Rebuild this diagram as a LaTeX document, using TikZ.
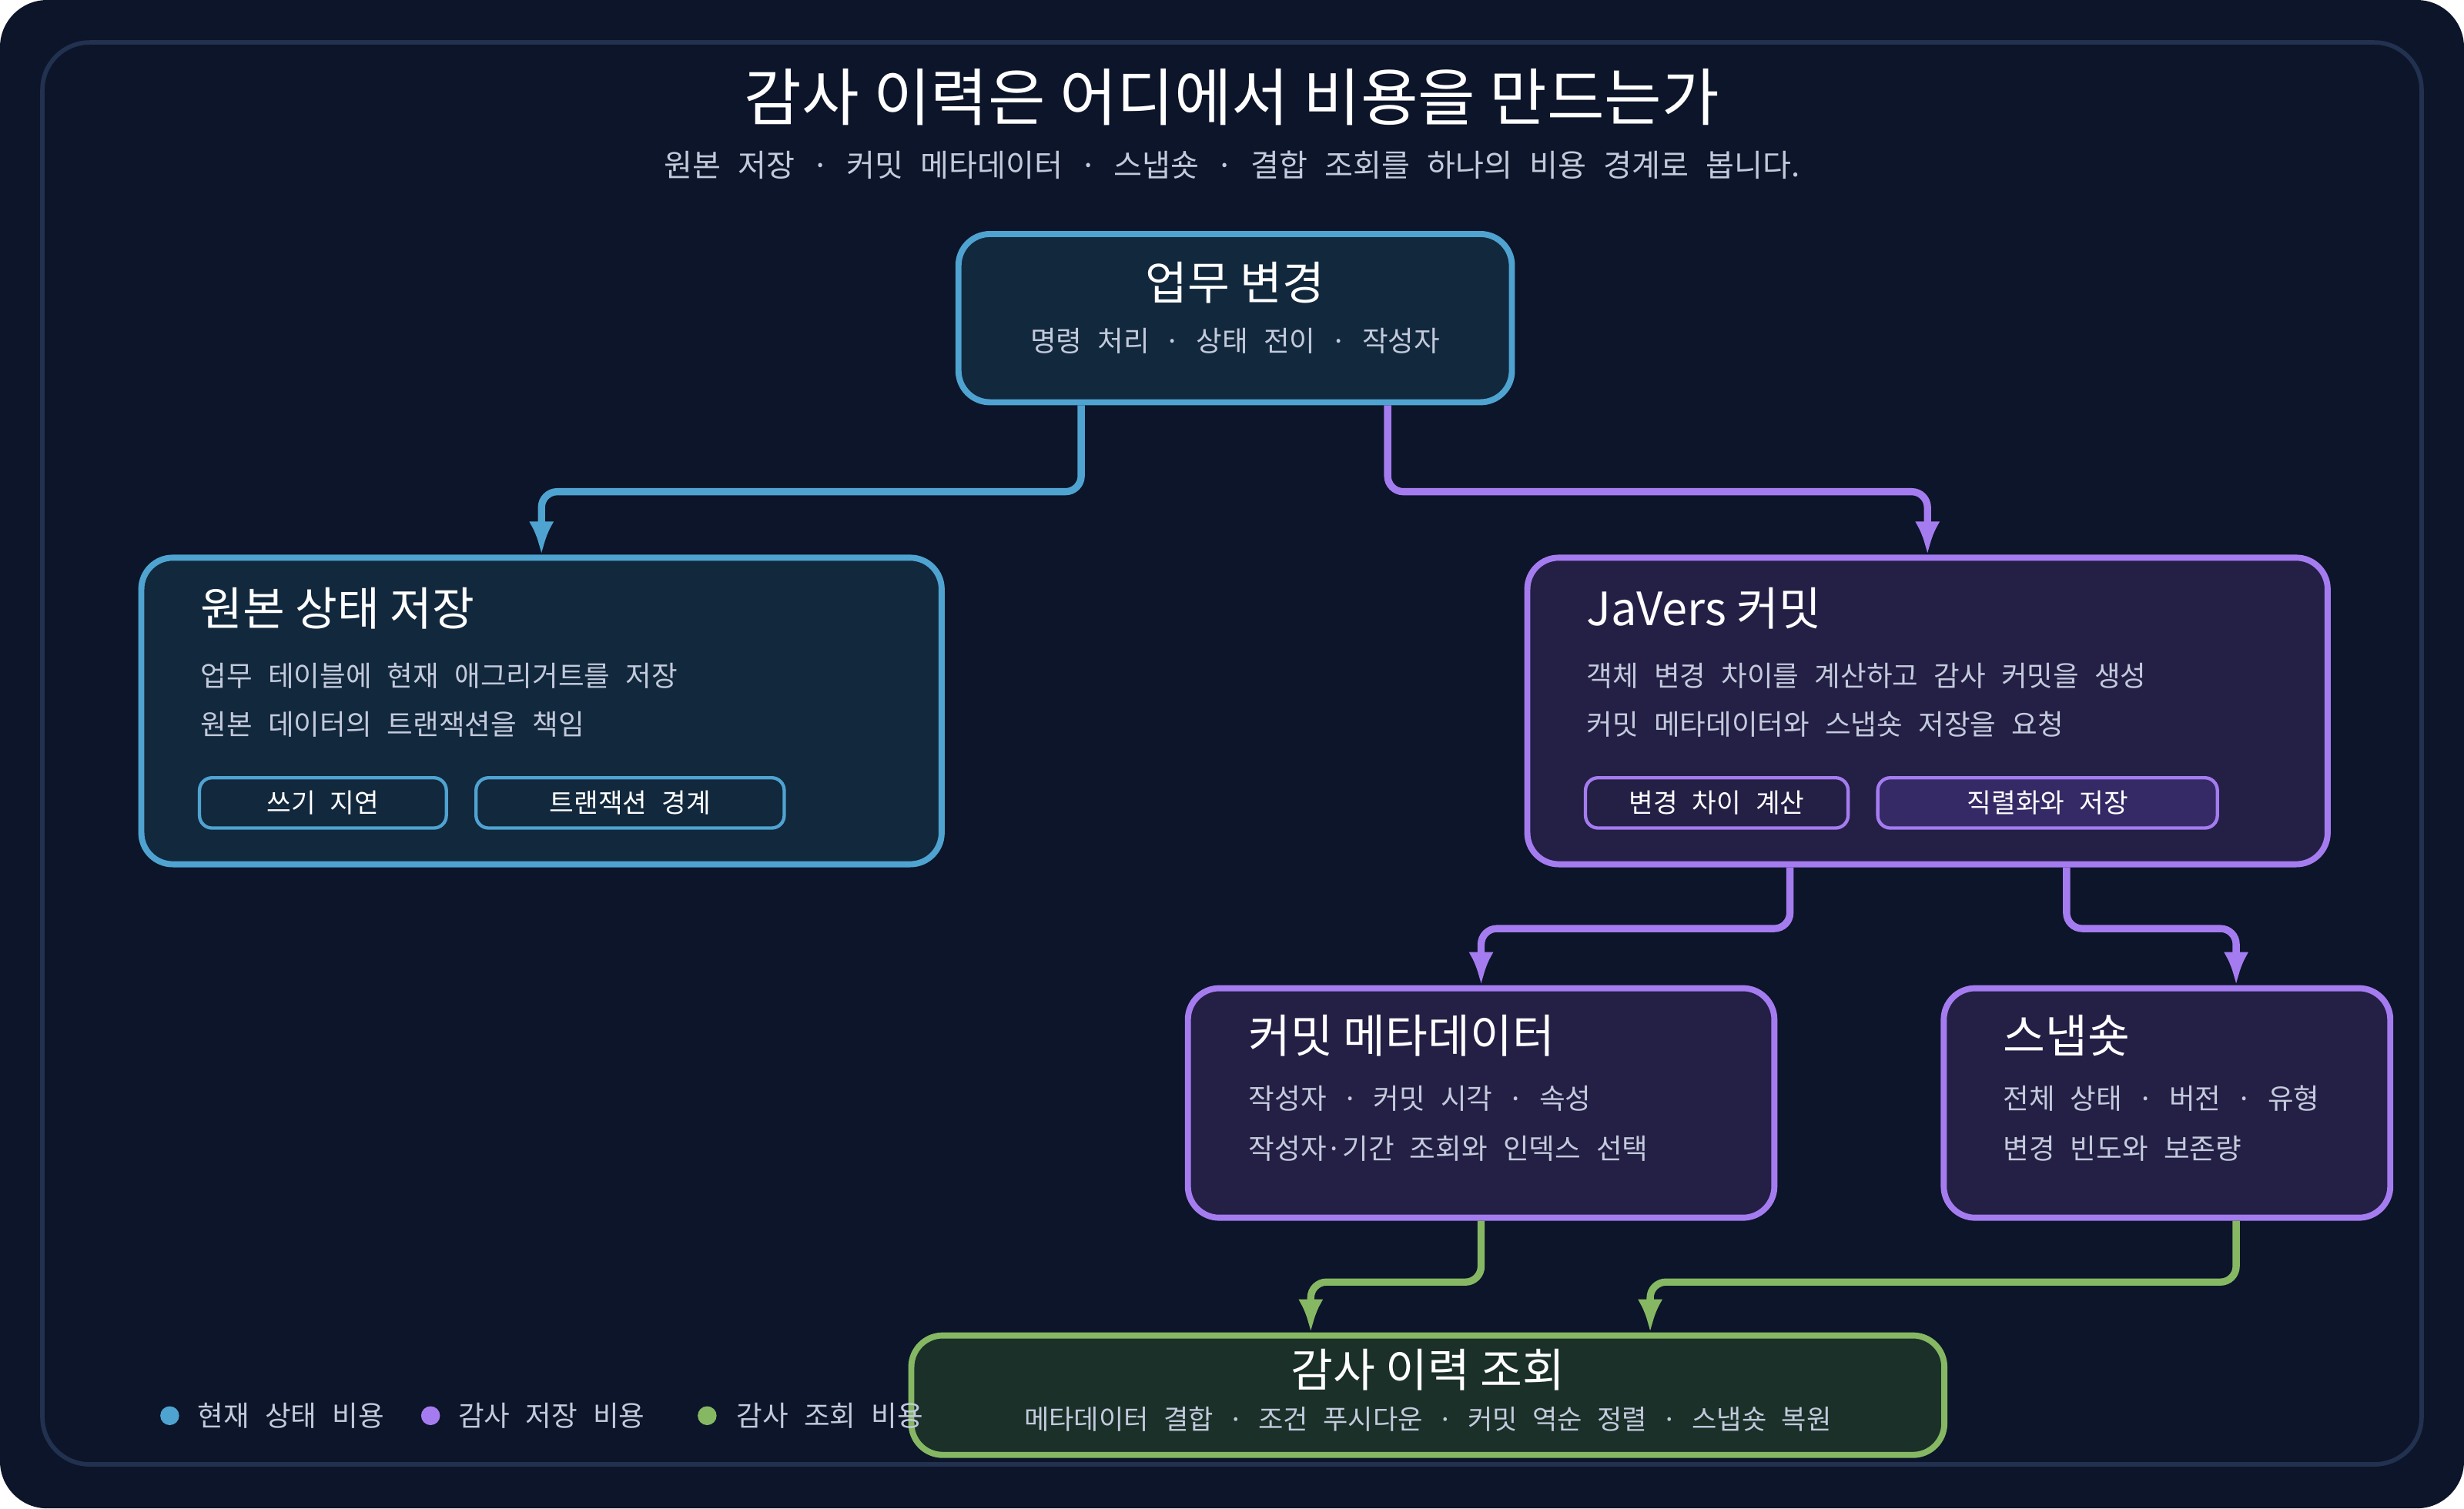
\documentclass[tikz,border=0pt]{standalone}
\usepackage{fontspec}
\setmainfont{Noto Sans CJK KR}
\usetikzlibrary{arrows.meta, positioning, calc}
\definecolor{bgdark}{HTML}{0C1529}
\definecolor{framec}{HTML}{22314F}
\definecolor{bluec}{HTML}{4FA3D1}
\definecolor{bluefill}{HTML}{12283D}
\definecolor{purplec}{HTML}{A57CF0}
\definecolor{purplefill}{HTML}{241F45}
\definecolor{purpletag}{HTML}{352A66}
\definecolor{greenc}{HTML}{86B864}
\definecolor{greenfill}{HTML}{1A3029}
\definecolor{textgray}{HTML}{C3CADC}
\newcommand{\espacement}{\spaceskip=0.55em\relax}
\tikzset{
    boite/.style={draw, line width=1.1pt, rounded corners=0.2cm, anchor=north west, inner sep=0pt},
    boite bleue/.style={boite, draw=bluec, fill=bluefill},
    boite violette/.style={boite, draw=purplec, fill=purplefill},
    boite verte/.style={boite, draw=greenc, fill=greenfill},
    etiquette/.style={draw, line width=0.6pt, rounded corners=0.08cm, inner sep=0pt, minimum height=0.32cm, font=\fontsize{4.8}{6}\selectfont\espacement, text=white},
    titre/.style={anchor=west, inner sep=0pt, text=white, font=\fontsize{8.3}{10}\selectfont},
    ligne/.style={anchor=west, inner sep=0pt, text=textgray, font=\fontsize{5.1}{7}\selectfont\espacement},
    fleche/.style={-{Latex[length=6pt, width=4.5pt]}, line width=1.3pt, rounded corners=0.1cm},
    point/.style={circle, inner sep=0pt, minimum size=0.12cm},
}
\begin{document}
\begin{tikzpicture}[x=0.01cm, y=-0.01cm]
\useasboundingbox (0,0) rectangle (1568,960);
% fond
\fill[bgdark, rounded corners=0.3cm] (0,0) rectangle (1568,960);
\draw[framec, line width=0.8pt, rounded corners=0.3cm] (27,27) rectangle (1541,932);
% titres
\node[text=white, font=\fontsize{11.3}{13}\selectfont] (titre) at (784,62) {감사 이력은 어디에서 비용을 만드는가};
\node[text=textgray, font=\fontsize{5.6}{7}\selectfont\espacement] (soustitre) at (784,105) {원본 저장 · 커밋 메타데이터 · 스냅숏 · 결합 조회를 하나의 비용 경계로 봅니다.};

% boites
\node[boite bleue, minimum width=3.52cm, minimum height=1.07cm] (metier) at (608,147) {};
\node[text=white, font=\fontsize{8.3}{10}\selectfont] at ($(metier.north)+(0,33)$) {업무 변경};
\node[text=textgray, font=\fontsize{5.1}{7}\selectfont\espacement] at ($(metier.north)+(0,70)$) {명령 처리 · 상태 전이 · 작성자};

\node[boite bleue, minimum width=5.09cm, minimum height=1.95cm] (origine) at (88,353) {};
\node[titre] at ($(origine.north west)+(39,34)$) {원본 상태 저장};
\node[ligne] at ($(origine.north west)+(39,77)$) {업무 테이블에 현재 애그리거트를 저장};
\node[ligne] at ($(origine.north west)+(39,108)$) {원본 데이터의 트랜잭션을 책임};
\node[etiquette, draw=bluec, fill=bluefill, minimum width=1.57cm] (tagA) at (205.5,511) {쓰기 지연};
\node[etiquette, draw=bluec, fill=bluefill, minimum width=1.96cm] (tagB) at (401,511) {트랜잭션 경계};

\node[boite violette, minimum width=5.09cm, minimum height=1.95cm] (javers) at (970,353) {};
\node[titre] at ($(javers.north west)+(39,34)$) {JaVers 커밋};
\node[ligne] at ($(javers.north west)+(39,77)$) {객체 변경 차이를 계산하고 감사 커밋을 생성};
\node[ligne] at ($(javers.north west)+(39,108)$) {커밋 메타데이터와 스냅숏 저장을 요청};
\node[etiquette, draw=purplec, fill=purplefill, minimum width=1.67cm] (tagC) at (1092.5,511) {변경 차이 계산};
\node[etiquette, draw=purplec, fill=purpletag, minimum width=2.16cm] (tagD) at (1303,511) {직렬화와 저장};

\node[boite violette, minimum width=3.73cm, minimum height=1.46cm] (meta) at (754,627) {};
\node[titre] at ($(meta.north west)+(40,32)$) {커밋 메타데이터};
\node[ligne] at ($(meta.north west)+(40,72)$) {작성자 · 커밋 시각 · 속성};
\node[ligne] at ($(meta.north west)+(40,104)$) {작성자·기간 조회와 인덱스 선택};

\node[boite violette, minimum width=2.84cm, minimum height=1.46cm] (snap) at (1235,627) {};
\node[titre] at ($(snap.north west)+(39,32)$) {스냅숏};
\node[ligne] at ($(snap.north west)+(39,72)$) {전체 상태 · 버전 · 유형};
\node[ligne] at ($(snap.north west)+(39,104)$) {변경 빈도와 보존량};

\node[boite verte, minimum width=6.57cm, minimum height=0.76cm] (requete) at (578,848) {};
\node[text=white, font=\fontsize{8.3}{10}\selectfont] at ($(requete.north)+(0,24)$) {감사 이력 조회};
\node[text=textgray, font=\fontsize{4.9}{6}\selectfont\espacement] at ($(requete.north)+(0,55)$) {메타데이터 결합 · 조건 푸시다운 · 커밋 역순 정렬 · 스냅숏 복원};

% connecteurs
\draw[fleche, bluec] ($(metier.south)+(-98,0)$) -- ++(0,55) -| (origine.north);
\draw[fleche, purplec] ($(metier.south)+(97,0)$) -- ++(0,55) -| (javers.north);
\draw[fleche, purplec] ($(javers.south)+(-87.5,0)$) -- ++(0,39) -| (meta.north);
\draw[fleche, purplec] ($(javers.south)+(88.5,0)$) -- ++(0,39) -| ($(snap.north)+(44,0)$);
\draw[fleche, greenc] (meta.south) -- ++(0,39) -| ($(requete.north)+(-74.5,0)$);
\draw[fleche, greenc] ($(snap.south)+(44,0)$) -- ++(0,39) -| ($(requete.north)+(141.5,0)$);

% legende
\node[point, fill=bluec] (lgA) at (108,901) {};
\node[ligne] at (125,901) {현재 상태 비용};
\node[point, fill=purplec] (lgB) at (274,901) {};
\node[ligne] at (291,901) {감사 저장 비용};
\node[point, fill=greenc] (lgC) at (450,901) {};
\node[ligne] at (468,901) {감사 조회 비용};
\end{tikzpicture}
\end{document}
